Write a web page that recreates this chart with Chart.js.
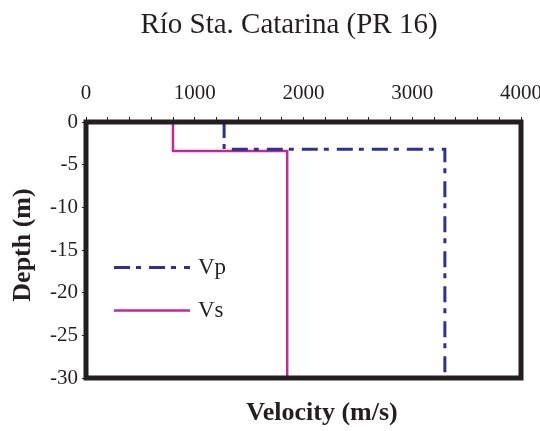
<!DOCTYPE html>
<html>
<head>
<meta charset="utf-8">
<script src="https://cdn.jsdelivr.net/npm/chart.js@4/dist/chart.umd.min.js"></script>
<style>
html,body{margin:0;padding:0;background:#fff;}
#wrap{width:540px;height:431px;}
</style>
</head>
<body>
<div id="wrap"><canvas id="c" width="540" height="431"></canvas></div>
<script>
// ---- data ----
const chartTitle = "Río Sta. Catarina (PR 16)";
const xTitle = "Velocity (m/s)";
const yTitle = "Depth (m)";
const seriesNames = ["Vp", "Vs"];
const vpVelocity = [1270, 1270, 3300, 3300];
const vpDepth    = [0, -3.2, -3.2, -30];
const vsVelocity = [800, 800, 1850, 1850];
const vsDepth    = [0, -3.4, -3.4, -30];
const xTickLabels = [0, 1000, 2000, 3000, 4000];
const yTickLabels = [0, -5, -10, -15, -20, -25, -30];

const toPts = (xs, ys) => xs.map((x, i) => ({x: x, y: ys[i]}));
const INK = '#231f20';
const SERIF = '"Liberation Serif", "Times New Roman", serif';

const framePlugin = {
  id: 'frame',
  afterDatasetsDraw(chart) {
    const {ctx, chartArea: a} = chart;
    ctx.save();
    ctx.strokeStyle = INK;
    ctx.lineWidth = 5;
    ctx.strokeRect(a.left, a.top, a.right - a.left, a.bottom - a.top);
    ctx.restore();
  },
  afterDraw(chart) {
    const {ctx, chartArea: a} = chart;
    ctx.save();
    ctx.fillStyle = INK;
    ctx.textAlign = 'center';
    ctx.textBaseline = 'middle';
    ctx.font = '29px ' + SERIF;
    ctx.fillText(chartTitle, 289, 25);
    ctx.font = 'bold 26px ' + SERIF;
    ctx.fillText(xTitle, 322, 413);
    ctx.save();
    ctx.translate(23, 245);
    ctx.rotate(-Math.PI / 2);
    ctx.fillText(yTitle, 0, 0);
    ctx.restore();
    // legend
    const ys = chart.scales.y;
    const rows = [-17, -22];
    chart.data.datasets.forEach((ds, i) => {
      const y = Math.round(ys.getPixelForValue(rows[i])) + 0.5;
      ctx.save();
      ctx.strokeStyle = ds.borderColor;
      ctx.lineWidth = ds.borderWidth;
      ctx.setLineDash(ds.borderDash || []);
      ctx.beginPath();
      ctx.moveTo(a.left + 28, y);
      ctx.lineTo(a.left + 104, y);
      ctx.stroke();
      ctx.restore();
      ctx.font = '23px ' + SERIF;
      ctx.textAlign = 'left';
      ctx.fillText(ds.label, a.left + 112, y);
    });
    ctx.restore();
  }
};

new Chart(document.getElementById('c'), {
  type: 'scatter',
  data: {
    datasets: [
      {label: seriesNames[0], data: toPts(vpVelocity, vpDepth), showLine: true,
       borderColor: '#2e3192', backgroundColor: '#2e3192', borderWidth: 3,
       borderDash: [16, 6, 5, 8], pointRadius: 0, tension: 0},
      {label: seriesNames[1], data: toPts(vsVelocity, vsDepth), showLine: true,
       borderColor: '#c1289b', backgroundColor: '#c1289b', borderWidth: 2.5,
       pointRadius: 0, tension: 0}
    ]
  },
  options: {
    responsive: false,
    animation: false,
    layout: {padding: {left: 0, top: 0, right: 19, bottom: 53}},
    plugins: {legend: {display: false}, title: {display: false}, tooltip: {enabled: false}},
    scales: {
      x: {
        type: 'linear', position: 'top', min: 0, max: 4000,
        afterFit(s) { s.height = 122; s.paddingLeft = 0; s.paddingRight = 0; },
        afterBuildTicks(s) {
          const t = [];
          for (let v = 0; v <= 4000; v += 200) t.push({value: v});
          s.ticks = t;
        },
        ticks: {
          autoSkip: false, maxRotation: 0, padding: 11, color: INK,
          font: {family: SERIF, size: 21},
          callback: v => xTickLabels.includes(v) ? String(v) : ''
        },
        grid: {drawOnChartArea: false, drawTicks: true, tickLength: 5, color: INK, lineWidth: 1},
        border: {display: false}
      },
      y: {
        type: 'linear', min: -30, max: 0,
        afterFit(s) { s.width = 86; s.paddingTop = 0; s.paddingBottom = 0; },
        afterBuildTicks(s) { s.ticks = yTickLabels.map(v => ({value: v})); },
        ticks: {
          padding: 4, color: INK, font: {family: SERIF, size: 21},
          callback: v => String(v)
        },
        grid: {drawOnChartArea: false, drawTicks: true, tickLength: 4, color: INK, lineWidth: 1},
        border: {display: false}
      }
    }
  },
  plugins: [framePlugin]
});
</script>
</body>
</html>
